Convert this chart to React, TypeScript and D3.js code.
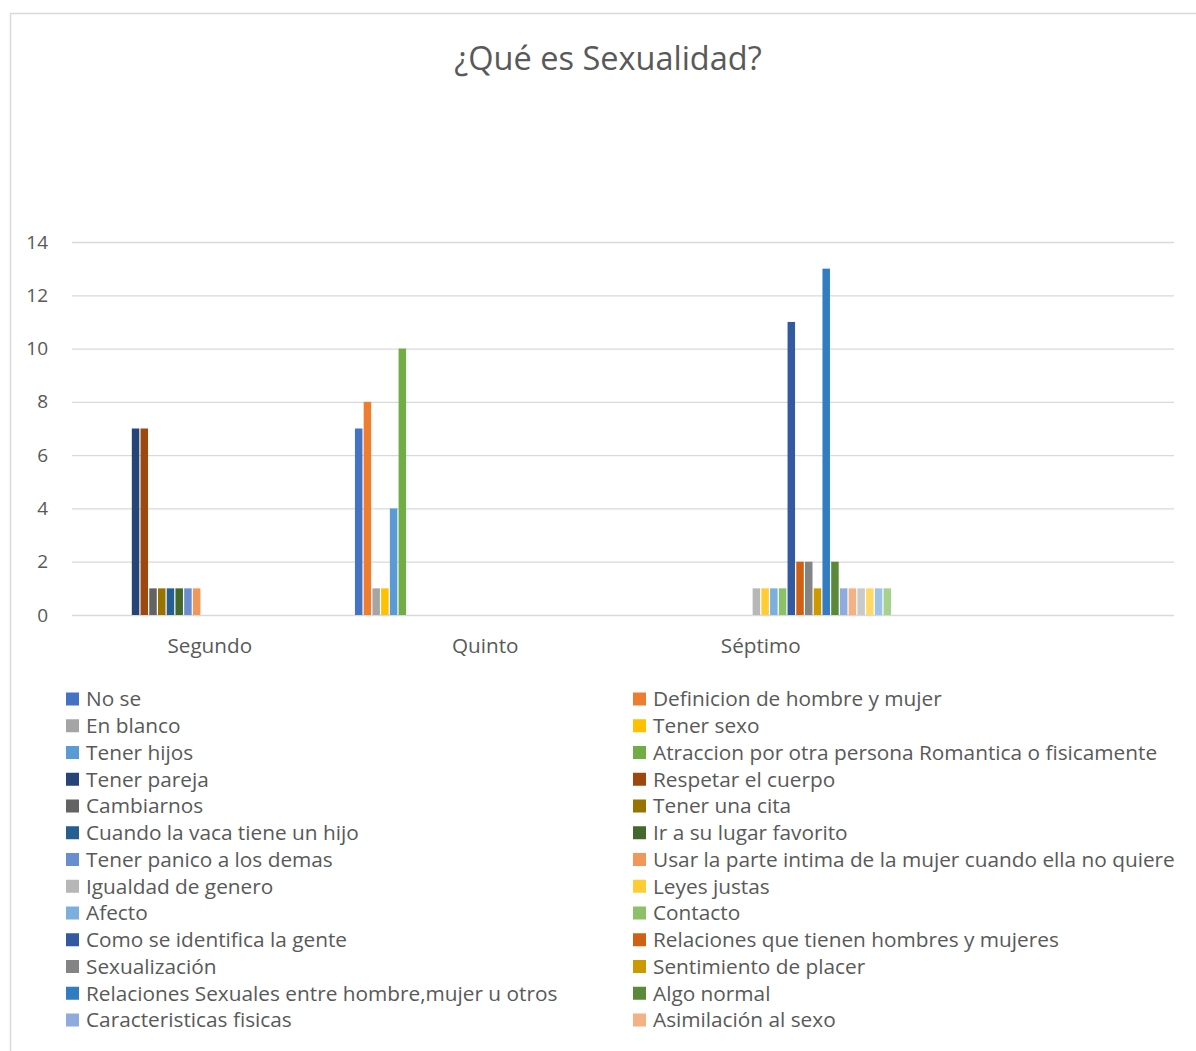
import React, { useRef, useEffect } from 'react';
import * as d3 from 'd3';

const categories = ['Segundo', 'Quinto', 'Séptimo', ''];

const seriesNames = [
  'No se',
  'Definicion de hombre y mujer',
  'En blanco',
  'Tener sexo',
  'Tener hijos',
  'Atraccion por otra persona Romantica o fisicamente',
  'Tener pareja',
  'Respetar el cuerpo',
  'Cambiarnos',
  'Tener una cita',
  'Cuando la vaca tiene un hijo',
  'Ir a su lugar favorito',
  'Tener panico a los demas',
  'Usar la parte intima de la mujer cuando ella no quiere',
  'Igualdad de genero',
  'Leyes justas',
  'Afecto',
  'Contacto',
  'Como se identifica la gente',
  'Relaciones que tienen hombres y mujeres',
  'Sexualización',
  'Sentimiento de placer',
  'Relaciones Sexuales entre hombre,mujer u otros',
  'Algo normal',
  'Caracteristicas fisicas',
  'Asimilación al sexo',
  // estas no caben en la leyenda del original
  'Serie 27',
  'Serie 28',
  'Serie 29',
  'Serie 30'
];

const seriesColors = [
  '#4472C4', '#ED7D31', '#A5A5A5', '#FFC000', '#5B9BD5', '#70AD47',
  '#264478', '#9E480E', '#636363', '#997300', '#255E91', '#43682B',
  '#698ED0', '#F1975A', '#B7B7B7', '#FFCD33', '#7CAFDD', '#8CC168',
  '#335AA1', '#D26012', '#848484', '#CC9A00', '#327DC2', '#5A8A39',
  '#8FAADC', '#F4B183', '#C9C9C9', '#FFD966', '#9DC3E6', '#A9D18E'
];

// valores por serie: [Segundo, Quinto, Séptimo, (vacío)]
const seriesValues = [
  [0, 7, 0, 0],
  [0, 8, 0, 0],
  [0, 1, 0, 0],
  [0, 1, 0, 0],
  [0, 4, 0, 0],
  [0, 10, 0, 0],
  [7, 0, 0, 0],
  [7, 0, 0, 0],
  [1, 0, 0, 0],
  [1, 0, 0, 0],
  [1, 0, 0, 0],
  [1, 0, 0, 0],
  [1, 0, 0, 0],
  [1, 0, 0, 0],
  [0, 0, 1, 0],
  [0, 0, 1, 0],
  [0, 0, 1, 0],
  [0, 0, 1, 0],
  [0, 0, 11, 0],
  [0, 0, 2, 0],
  [0, 0, 2, 0],
  [0, 0, 1, 0],
  [0, 0, 13, 0],
  [0, 0, 2, 0],
  [0, 0, 1, 0],
  [0, 0, 1, 0],
  [0, 0, 1, 0],
  [0, 0, 1, 0],
  [0, 0, 1, 0],
  [0, 0, 1, 0]
];

const yTicks = [0, 2, 4, 6, 8, 10, 12, 14];
const legendCount = 26;

const width = 1196;
const height = 1051;
const font = '"Open Sans", "Noto Sans", sans-serif';
const textColor = '#595959';

const App: React.FC = () => {
  const svgRef = useRef<SVGSVGElement>(null);

  useEffect(() => {
    if (!svgRef.current) return;
    const svg = d3.select(svgRef.current);
    svg.selectAll('*').remove();

    // marco del gráfico
    svg.append('rect')
      .attr('x', 10.5).attr('y', 13.5)
      .attr('width', 1200).attr('height', 1100)
      .attr('fill', '#fff')
      .attr('stroke', '#D9D9D9')
      .attr('stroke-width', 1.5);

    svg.append('text')
      .attr('x', 608).attr('y', 70)
      .attr('text-anchor', 'middle')
      .style('font-family', font)
      .style('font-size', '32.5px')
      .style('fill', textColor)
      .text('¿Qué es Sexualidad?');

    const plot = { left: 72, right: 1174, top: 242, bottom: 615 };

    const x0 = d3.scaleBand<string>()
      .domain(categories.map((_, i) => String(i)))
      .range([plot.left, plot.right])
      .paddingInner(0.054)
      .paddingOuter(0.027);

    const x1 = d3.scaleBand<number>()
      .domain(d3.range(seriesNames.length))
      .range([0, x0.bandwidth()])
      .paddingInner(0.14);

    const y = d3.scaleLinear()
      .domain([0, 14])
      .range([plot.bottom, plot.top]);

    // líneas de cuadrícula
    const yAxis = d3.axisLeft(y)
      .tickValues(yTicks)
      .tickSizeInner(-(plot.right - plot.left))
      .tickSizeOuter(0)
      .tickPadding(24);

    const gy = svg.append('g')
      .attr('transform', `translate(${plot.left},0)`)
      .call(yAxis);
    gy.select('.domain').remove();
    gy.selectAll('.tick line')
      .attr('stroke', '#D9D9D9')
      .attr('stroke-width', 1.3);
    gy.selectAll('.tick text')
      .style('font-family', font)
      .style('font-size', '19px')
      .style('fill', textColor);

    // barras
    const groups = svg.append('g')
      .selectAll('g')
      .data(seriesValues)
      .join('g')
      .attr('fill', (_, i) => seriesColors[i]);

    groups.each(function (vals, si) {
      d3.select(this)
        .selectAll('rect')
        .data(vals.map((v, ci) => ({ v, ci })).filter(d => d.v > 0))
        .join('rect')
        .attr('x', d => (x0(String(d.ci)) as number) + (x1(si) as number))
        .attr('y', d => y(d.v))
        .attr('width', x1.bandwidth())
        .attr('height', d => y(0) - y(d.v));
    });

    // eje X
    const xAxis = d3.axisBottom(x0)
      .tickFormat(d => categories[Number(d)])
      .tickSize(0)
      .tickPadding(23);
    const gx = svg.append('g')
      .attr('transform', `translate(0,${plot.bottom})`)
      .call(xAxis);
    gx.select('.domain').remove();
    gx.selectAll('.tick text')
      .style('font-family', font)
      .style('font-size', '20.7px')
      .style('fill', textColor);

    // leyenda (dos columnas, por filas)
    const legendItems = seriesNames.slice(0, legendCount).map((name, i) => ({
      name,
      color: seriesColors[i],
      col: i % 2,
      row: Math.floor(i / 2)
    }));
    const colX = [66, 633];
    const legend = svg.append('g')
      .selectAll('g')
      .data(legendItems)
      .join('g')
      .attr('transform', d => `translate(${colX[d.col]},${699 + d.row * 26.75})`);
    legend.append('rect')
      .attr('x', 0).attr('y', -6.5)
      .attr('width', 13).attr('height', 13)
      .attr('fill', d => d.color);
    legend.append('text')
      .attr('x', 20).attr('y', 0)
      .attr('dy', '0.35em')
      .style('font-family', font)
      .style('font-size', '20.8px')
      .style('fill', textColor)
      .text(d => d.name);
  }, []);

  return (
    <svg
      ref={svgRef}
      width={width}
      height={height}
      style={{ position: 'absolute', left: 0, top: 0, background: '#fff' }}
    />
  );
};

export default App;
